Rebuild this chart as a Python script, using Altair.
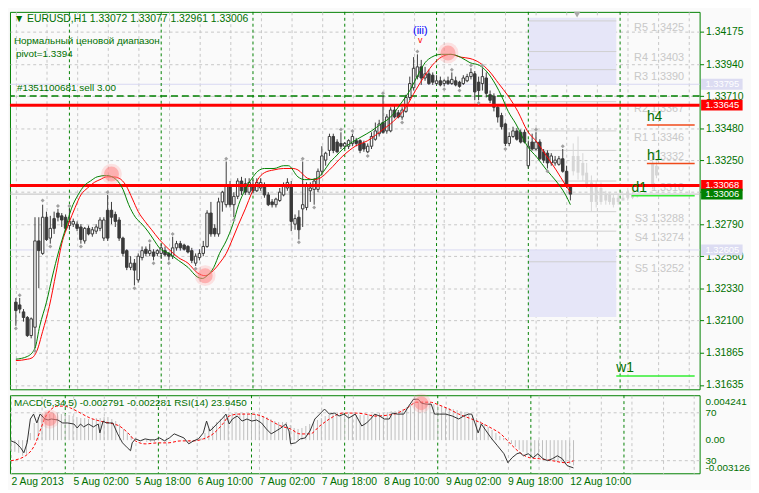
import altair as alt
import pandas as pd

# ---------------- data ----------------
opens = [1.3223,1.3221,1.3216,1.3212,1.3199,1.3205,1.3267,1.3258,1.3284,1.3269,
         1.3283,1.3287,1.3285,1.3284,1.3278,1.3279,1.3279,1.3277,1.3267,1.3276,
         1.3272,1.3274,1.3276,1.3269,1.3289,1.3289,1.3286,1.3282,1.3269,1.3260,
         1.3248,1.3251,1.3239,1.3255,1.3261,1.3258,1.3259,1.3258,1.3258,1.3260,
         1.3258,1.3256,1.3262,1.3265,1.3264,1.3263,1.3260,1.3251,1.3255,1.3258,
         1.3263,1.3287,1.3276,1.3272,1.3295,1.3293,1.3307,1.3293,1.3299,1.3310,
         1.3308,1.3302,1.3307,1.3303,1.3305,1.3307,1.3300,1.3295,1.3293,1.3296,
         1.3300,1.3305,1.3307,1.3279,1.3284,1.3290,1.3291,1.3303,1.3304,1.3304,
         1.3317,1.3325,1.3332,1.3342,1.3338,1.3337,1.3335,1.3335,1.3337,1.3339,
         1.3339,1.3337,1.3331,1.3335,1.3340,1.3344,1.3352,1.3346,1.3346,1.3361,
         1.3359,1.3356,1.3360,1.3370,1.3377,1.3385,1.3392,1.3384,1.3387,1.3386,
         1.3380,1.3382,1.3380,1.3382,1.3380,1.3382,1.3381,1.3380,1.3382,1.3385,
         1.3387,1.3381,1.3380,1.3384,1.3372,1.3371,1.3363,1.3357,1.3351,1.3337,
         1.3342,1.3346,1.3345,1.3345,1.3321,1.3338,1.3333,1.3338,1.3331,1.3330,
         1.3323,1.3323,1.3322,1.3326,1.3317,1.33072]
highs = [1.3226,1.3226,1.3218,1.3213,1.3212,1.3284,1.3284,1.3293,1.3288,1.3285,
         1.3288,1.3290,1.3287,1.3286,1.3290,1.3283,1.3281,1.3279,1.3277,1.3278,
         1.3277,1.3279,1.3284,1.3284,1.3300,1.3295,1.3288,1.3284,1.3270,1.3261,
         1.3256,1.3254,1.3258,1.3263,1.3263,1.3265,1.3261,1.3261,1.3265,1.3263,
         1.3259,1.3270,1.3267,1.3267,1.3265,1.3264,1.3262,1.3258,1.3261,1.3267,
         1.3289,1.3295,1.3279,1.3298,1.3303,1.3324,1.3310,1.3302,1.3312,1.3313,
         1.3312,1.3312,1.3311,1.3312,1.3312,1.3309,1.3302,1.3297,1.3298,1.3305,
         1.3309,1.3312,1.3310,1.3286,1.3289,1.3324,1.3309,1.3309,1.3312,1.3319,
         1.3335,1.3331,1.3344,1.3344,1.3340,1.3345,1.3338,1.3340,1.3344,1.3341,
         1.3340,1.3339,1.3337,1.3345,1.3352,1.3354,1.3371,1.3358,1.3363,1.3364,
         1.3361,1.3363,1.3372,1.3385,1.3399,1.3401,1.3397,1.3392,1.3390,1.3388,
         1.3386,1.3385,1.3383,1.3385,1.3388,1.3385,1.3382,1.3386,1.3387,1.3391,
         1.3389,1.3385,1.3391,1.3388,1.3375,1.3373,1.3365,1.3359,1.3352,1.3345,
         1.3349,1.3348,1.3347,1.3347,1.3339,1.3344,1.3345,1.3340,1.3333,1.3332,
         1.3330,1.3328,1.3328,1.3333,1.3321,1.33077]
lows = [1.3206,1.3215,1.3209,1.3198,1.3197,1.3190,1.3233,1.3257,1.3267,1.3265,
        1.3272,1.3281,1.3277,1.3274,1.3275,1.3277,1.3274,1.3265,1.3265,1.3271,
        1.3270,1.3272,1.3274,1.3267,1.3267,1.3279,1.3277,1.3267,1.3256,1.3246,
        1.3246,1.3235,1.3237,1.3253,1.3256,1.3256,1.3253,1.3256,1.3254,1.3256,
        1.3253,1.3254,1.3260,1.3260,1.3260,1.3258,1.3251,1.3249,1.3253,1.3256,
        1.3262,1.3270,1.3270,1.3270,1.3288,1.3291,1.3291,1.3284,1.3297,1.3300,
        1.3300,1.3300,1.3301,1.3302,1.3303,1.3298,1.3292,1.3291,1.3291,1.3295,
        1.3299,1.3303,1.3274,1.3275,1.3268,1.3277,1.3289,1.3295,1.3293,1.3302,
        1.3314,1.3321,1.3328,1.3330,1.3330,1.3333,1.3333,1.3333,1.3335,1.3335,
        1.3330,1.3331,1.3330,1.3333,1.3339,1.3342,1.3344,1.3344,1.3345,1.3355,
        1.3355,1.3354,1.3359,1.3368,1.3375,1.3383,1.3379,1.3382,1.3379,1.3379,
        1.3379,1.3378,1.3378,1.3379,1.3379,1.3378,1.3377,1.3379,1.3381,1.3383,
        1.3368,1.3368,1.3375,1.3370,1.3366,1.3360,1.3352,1.3347,1.3335,1.3335,
        1.3341,1.3339,1.3337,1.3337,1.3319,1.3332,1.3332,1.3325,1.3323,1.3319,
        1.3321,1.3321,1.3321,1.3316,1.3305,1.32961]
closes = [1.3217,1.3218,1.3212,1.3199,1.3211,1.3267,1.3260,1.3284,1.3268,1.3276,
          1.3276,1.3284,1.3282,1.3276,1.3281,1.3281,1.3276,1.3268,1.3276,1.3272,
          1.3275,1.3277,1.3282,1.3282,1.3269,1.3284,1.3281,1.3269,1.3258,1.3248,
          1.3251,1.3246,1.3256,1.3260,1.3258,1.3260,1.3256,1.3260,1.3262,1.3257,
          1.3256,1.3262,1.3265,1.3262,1.3261,1.3259,1.3253,1.3256,1.3258,1.3263,
          1.3287,1.3272,1.3272,1.3295,1.3302,1.3307,1.3293,1.3299,1.3310,1.3303,
          1.3302,1.3309,1.3303,1.3309,1.3309,1.3300,1.3293,1.3293,1.3297,1.3302,
          1.3307,1.3309,1.3281,1.3283,1.3275,1.3293,1.3307,1.3305,1.3310,1.3317,
          1.3328,1.3330,1.3342,1.3332,1.3331,1.3335,1.3337,1.3339,1.3342,1.3337,
          1.3332,1.3333,1.3335,1.3342,1.3346,1.3351,1.3345,1.3356,1.3361,1.3356,
          1.3356,1.3361,1.3370,1.3380,1.3391,1.3392,1.3384,1.3387,1.3380,1.3381,
          1.3382,1.3379,1.3382,1.3380,1.3383,1.3379,1.3378,1.3384,1.3385,1.3388,
          1.3374,1.3375,1.3385,1.3373,1.3368,1.3363,1.3356,1.3349,1.3337,1.3342,
          1.3346,1.3340,1.3338,1.3338,1.3335,1.3333,1.3338,1.3326,1.3325,1.3323,
          1.3328,1.3325,1.3326,1.3317,1.3307,1.33006]

# projected (light grey) candles on the right
ghost_i = [145.75,147,148.25,149.25,150.5,151.75,153,154.25,155.25,156.25,157.5,158.75,160,161.25,162.5,166.5,167.5]
ghost_o = [1.3328,1.3328,1.3323,1.3316,1.3309,1.3307,1.3305,1.3300,1.3300,1.3298,1.3298,1.3298,1.3298,1.3298,1.3299,1.3307,1.3321]
ghost_h = [1.3337,1.3342,1.3330,1.3323,1.3314,1.3310,1.3309,1.3303,1.3302,1.3300,1.3300,1.3300,1.3305,1.3302,1.3300,1.3328,1.3324]
ghost_l = [1.3314,1.3311,1.3310,1.3305,1.3288,1.3291,1.3293,1.3293,1.3293,1.3291,1.3293,1.3296,1.3296,1.3297,1.3298,1.3304,1.3312]
ghost_c = [1.3317,1.3316,1.3314,1.3307,1.3295,1.3295,1.3295,1.3296,1.3295,1.3293,1.3295,1.3296,1.3302,1.3300,1.3300,1.3323,1.3314]

# fractal markers
frac_up_i = [1,7,11,14,24,35,41,55,75,85,88,96,105,114,119,122,136,143]
frac_up_p = [1.3228,1.3296,1.3292,1.3292,1.3302,1.3267,1.3272,1.3326,1.3326,1.3347,1.3346,1.3373,1.3403,1.3390,1.3393,1.3393,1.3347,1.3335]
frac_dn_i = [0,5,9,17,31,36,40,47,57,74,78,92,101,112,116,121,128,139]
frac_dn_p = [1.3204,1.3188,1.3263,1.3263,1.3233,1.3251,1.3251,1.3247,1.3282,1.3266,1.3291,1.3328,1.3352,1.3376,1.3375,1.3366,1.3333,1.3317]

# moving averages (green fast, red slow)
ma_g_i = [0,3,5,6.25,8,9.5,11.25,13,14.5,16.25,18,19.5,21.25,23.75,26.25,28,29.5,31.25,33,34.5,36.25,37.5,40,42.5,45,47.5,48.75,50,51.75,53.25,55,56.75,58.25,60,61.75,63.25,65,67.5,70,71.25,73.75,75.5,77,78.75,80.5,82,83.75,85.5,88,90.5,93,95.5,98,100.5,103,105.5,107,108.75,111.25,113.75,116.25,118.75,121.25,123,125.5,127,128.75,130.75,133.75,136.25,138.75,141.25,143.75,145]
ma_g_p = [1.3182,1.3184,1.3190,1.3206,1.3223,1.3241,1.3260,1.3276,1.3290,1.3300,1.3307,1.3310,1.3313,1.3314,1.3311,1.3304,1.3293,1.3284,1.3279,1.3274,1.3267,1.3262,1.3258,1.3253,1.3248,1.3241,1.3240,1.3242,1.3248,1.3258,1.3267,1.3279,1.3293,1.3304,1.3312,1.3317,1.3319,1.3319,1.3321,1.3321,1.3313,1.3311,1.3311,1.3312,1.3317,1.3323,1.3328,1.3333,1.3338,1.3342,1.3346,1.3351,1.3356,1.3365,1.3375,1.3388,1.3395,1.3399,1.3401,1.3401,1.3399,1.3395,1.3393,1.3389,1.3379,1.3371,1.3360,1.3351,1.3335,1.3327,1.3318,1.3310,1.3300,1.3293]
ma_r_i = [0,3,4.25,5.5,7,8.75,10.5,12,13.75,15.5,17,18.75,20.5,22,23.75,25.5,27,28.75,30.5,32,33.75,35.5,37.5,40,42.5,45,47.5,49.5,51.75,53.25,55,56.75,58.25,60,61.75,63.25,65,67.5,70,72.5,73.75,76.25,78,79.5,82,85.5,88.75,92,95.5,98.75,102,104.5,107,109.5,111.25,113.75,116.25,118.75,121.25,123.75,126.25,128.75,131.25,133.75,136.25,138.75,141.25,143.75,145]
ma_r_p = [1.3181,1.3182,1.3183,1.3188,1.3202,1.3220,1.3244,1.3265,1.3279,1.3291,1.3300,1.3305,1.3309,1.3311,1.3313,1.3313,1.3312,1.3307,1.3297,1.3288,1.3281,1.3275,1.3268,1.3261,1.3255,1.3251,1.3244,1.3242,1.3246,1.3251,1.3258,1.3269,1.3279,1.3290,1.3302,1.3311,1.3316,1.3318,1.3319,1.3319,1.3318,1.3312,1.3311,1.3312,1.3318,1.3328,1.3335,1.3339,1.3346,1.3353,1.3363,1.3375,1.3386,1.3395,1.3399,1.3401,1.3399,1.3398,1.3395,1.3389,1.3380,1.3371,1.3360,1.3346,1.3338,1.3328,1.3318,1.3307,1.3302]

# MACD histogram (one per bar), signal line, RSI(14)
macd_hist = [-0.00118,-0.00129,-0.00140,-0.00173,-0.00151,
             0.00080,0.00190,0.00256,0.00289,
             0.00300,0.00289,0.00300,0.00300,0.00289,0.00289,0.00278,
             0.00267,0.00256,0.00245,0.00245,0.00234,0.00234,0.00245,0.00245,
             0.00256,0.00256,0.00234,0.00212,
             0.00179,0.00124,0.00080,0.00047,0.00025,
             -0.00008,-0.00008,-0.00019,-0.00019,-0.00019,-0.00008,-0.00008,-0.00019,-0.00008,0.00003,0.00003,0.00003,-0.00008,-0.00019,-0.00019,-0.00008,
             0.00025,0.00080,0.00124,0.00157,0.00201,0.00234,0.00267,0.00289,0.00300,
             0.00300,0.00300,0.00300,0.00289,0.00289,0.00289,0.00278,0.00267,0.00256,
             0.00234,0.00212,0.00201,0.00201,0.00201,0.00168,0.00135,
             0.00124,0.00135,0.00157,0.00179,0.00201,0.00223,0.00245,0.00267,0.00278,
             0.00289,0.00289,0.00289,0.00289,0.00289,0.00278,0.00278,0.00278,0.00278,0.00289,0.00289,0.00289,
             0.00300,0.00300,0.00311,0.00322,0.00322,0.00333,0.00344,0.00366,
             0.00388,0.00410,0.00421,0.004241,0.00421,0.00410,0.00399,0.00388,0.00377,
             0.00366,0.00355,0.00344,0.00333,0.00322,0.00311,0.00300,
             0.00278,0.00245,0.00212,0.00179,0.00146,0.00113,0.00080,0.00047,0.00025,-0.00008,
             -0.00041,-0.00074,-0.00107,-0.00129,-0.00151,-0.00173,-0.00184,-0.00195,-0.00206,-0.00217,-0.00228,-0.00228,-0.00239,-0.00250,-0.00250,-0.00261,-0.002791]
sig_i = [0,3.75,6.25,7.5,8.75,10.42,12.08,13.75,15.42,17.92,20.42,22.92,25.42,27.92,30.42,32.08,34.58,37.92,40.42,43.75,47.08,49.58,52.08,54.58,56.25,58.75,62.08,64.58,67.08,69.58,72.08,74.58,77.08,79.58,82.08,85.42,88.75,91.25,93.75,98.75,102.08,104.58,107.92,110.42,112.92,115.42,118.75,121.25,123.75,126.25,128.75,131.25,133.75,136.25,139.58,142.92,145]
sig_v = [-0.00228,-0.00173,-0.00041,0.00102,0.00245,0.00344,0.00377,0.00377,0.00355,0.00300,0.00245,0.00212,0.00190,0.00157,0.00069,-0.00008,-0.00041,-0.00030,-0.00030,-0.00008,-0.00008,0.00014,0.00069,0.00179,0.00267,0.00289,0.00289,0.00267,0.00212,0.00157,0.00124,0.00069,0.00069,0.00157,0.00234,0.00300,0.00300,0.00289,0.00267,0.00289,0.00355,0.00421,0.00421,0.00388,0.00344,0.00289,0.00234,0.00190,0.00135,0.00069,-0.00041,-0.00140,-0.00195,-0.00206,-0.00228,-0.00250,-0.002281]
rsi_i = [0,1.25,2.5,3.33,4.17,5,5.83,6.67,7.5,8.75,9.58,10.42,12.08,13.33,14.58,16.25,17.08,17.92,18.75,20,21.25,22.5,22.92,23.75,24.58,26.25,27.5,28.75,30,30.83,31.25,32.08,33.33,34.58,35.83,37.08,38.33,39.58,40.83,42.08,43.33,44.58,45.83,47.08,48.33,49.58,50.42,51.25,52.08,53.33,54.58,55.42,56.25,57.08,58.33,59.58,60.83,62.08,63.33,64.58,65.83,67.08,68.33,69.58,70.83,71.67,72.08,73.33,74.58,75.83,77.08,78.33,79.58,80.83,82.08,83.33,84.58,85.83,87.08,88.75,90.42,91.67,92.92,93.75,95,96.25,97.5,98.33,99.58,101.25,102.5,103.75,105,105.83,107.08,108.33,109.17,110.42,112.08,113.75,115.42,116.67,117.92,118.75,119.58,120.42,121.25,122.5,123.75,125.42,127.08,128.08,129.17,130.42,131.25,132.08,133.33,134.58,135.83,137.08,138.33,139.58,140.83,142.08,143.33,145]
rsi_v = [46.6,44.9,40.8,36.6,44.9,64.8,68.9,61.5,68.9,64.8,64.0,64.8,64.0,61.5,61.5,60.6,57.3,60.6,58.2,60.6,58.2,60.6,53.2,63.1,61.5,61.5,52.4,44.9,40.8,38.3,44.9,48.2,46.6,48.2,47.4,47.4,49.0,46.6,49.0,52.4,50.7,49.0,44.1,46.6,48.2,53.2,63.1,54.8,57.3,61.5,65.6,68.9,60.6,64.8,67.3,63.1,64.8,63.1,64.0,61.5,56.5,52.4,54.8,57.3,60.6,54.8,44.1,44.9,48.2,49.0,54.8,64.8,68.9,73.1,68.9,69.8,67.3,68.9,65.6,68.9,59.0,61.5,65.6,68.9,67.3,64.8,64.8,69.8,68.9,68.9,75.5,81.3,81.3,78.0,77.2,77.2,68.9,68.9,68.9,67.3,64.8,67.3,68.9,68.9,61.5,53.2,60.6,54.8,49.0,42.4,35.8,28.3,32.5,35.8,36.6,34.1,35.8,32.5,35.8,31.7,30.0,31.7,34.1,31.7,25.9,23.945]

# horizontal levels and labels
y_ticks = [1.34175,1.33940,1.33710,1.33480,1.33250,1.33020,1.32790,1.32560,1.32330,1.32100,1.31865,1.31635]
y_hidden_label = 1.33020
x_tick_labels = ["2 Aug 2013","5 Aug 02:00","5 Aug 18:00","6 Aug 10:00","7 Aug 02:00",
                 "7 Aug 18:00","8 Aug 10:00","9 Aug 02:00","9 Aug 18:00","12 Aug 10:00"]
day_starts = [14,38,62,86,110,134,158]
red_levels = [1.33645,1.33068]
lavender_levels = [1.33795,1.32605]
bid_price = 1.33006
sell_price = 1.3371
pivot_levels = [1.3425,1.3403,1.3390,1.3367,1.3346,1.3332,1.3310,1.3288,1.3274,1.3252]
pivot_names = ["R5 1.3425","R4 1.3403","R3 1.3390","R2 1.3367","R1 1.3346",
               "1.3332","1.3310","S3 1.3288","S4 1.3274","S5 1.3252"]
zone_top = [1.34273,1.32605]
zone_bot = [1.33796,1.32123]
tf_names = ["h4","h1","d1","w1"]
tf_prices = [1.33502,1.33226,1.32994,1.31700]
tf_start = [165,165,161,157]
tf_colors = ["#f04a1a","#f04a1a","#33ee33","#33ee33"]
box_prices = [1.33795,1.33645,1.33068,1.33006,1.32605]
box_texts = ["1.33795","1.33645","1.33068","1.33006","1.32605"]
box_colors = ["#dcdcf2","#ff0000","#ff0000","#008000","#dcdcf2"]
box_shift = [0, 0, -1.5, 1.5, -2.5]
hi_main_i = [25,49.5,113]
hi_main_p = [1.3315,1.3242,1.3402]
hi_macd_i = [10,105.75]
hi_macd_v = [0.00234,0.0041]
wave_label = "(iii)"
header_text = "\u25bc EURUSD,H1  1.33072 1.33077 1.32961 1.33006"
note_texts = ["Нормальный ценовой диапазон", " pivot=1.3394", "#1351100681 sell 3.00"]
macd_header = "MACD(5,34,5) -0.002791 -0.002281  RSI(14) 23.9450"
macd_labels_v = [0.004241, 0.0, -0.003126]
macd_labels_t = ["0.004241", "0.00", "-0.003126"]
rsi_levels = [70, 30]

# ---------------- chart ----------------
W, H1, H2 = 698, 382, 79
FONT = "Liberation Sans"
TXT = "#007000"
FRAME = "#008000"
GRID = "#c6c6c6"
CANDLE = "#3a3a3a"

xs = alt.Scale(domain=[-0.25, 177.5], nice=False, zero=False)
ps = alt.Scale(domain=[1.31604, 1.34315], nice=False, zero=False)
ms = alt.Scale(domain=[-0.003669, 0.004978], nice=False, zero=False)
rs = alt.Scale(domain=[19.48, 84.66], nice=False, zero=False)

grid_vals = list(range(0, 177, 8))
main_xaxis = alt.Axis(values=grid_vals, labels=False, ticks=False, domain=False, grid=True,
                      gridColor=GRID, gridDash=[3, 3], title=None)
main_yaxis = alt.Axis(orient="right", values=y_ticks,
                      labelExpr="abs(datum.value - %r) < 0.000001 ? '' : format(datum.value, '.5f')" % y_hidden_label,
                      labelColor=TXT, labelFont=FONT,
                      labelFontSize=10.5, tickColor=FRAME, tickSize=4, domain=False, grid=True,
                      gridColor=GRID, gridDash=[3, 3], labelPadding=2, title=None)
lab_arr = "[" + ",".join("'" + s + "'" for s in x_tick_labels) + "]"
macd_xaxis = alt.Axis(values=grid_vals,
                      labelExpr="(datum.value % 16 == 0 && datum.value <= 144) ? " + lab_arr + "[datum.value / 16] : ''",
                      labelAlign="left", labelColor=TXT, labelFont=FONT, labelFontSize=10.5,
                      labelFlush=False, labelOverlap=False, labelBound=False, ticks=False, domain=False,
                      grid=True, gridColor=GRID, gridDash=[3, 3], labelPadding=3, title=None)


def MX(f):
    return alt.X(f, type="quantitative", scale=xs, axis=main_xaxis)


def MY(f):
    return alt.Y(f, type="quantitative", scale=ps, axis=main_yaxis)


def KX(f):
    return alt.X(f, type="quantitative", scale=xs, axis=macd_xaxis)


bars = pd.DataFrame({"i": list(range(len(opens))), "o": opens, "h": highs, "l": lows, "c": closes})
bars["fillc"] = ["#ffffff" if c > o else CANDLE for o, c in zip(opens, closes)]
ghosts = pd.DataFrame({"i": ghost_i, "o": ghost_o, "h": ghost_h, "l": ghost_l, "c": ghost_c})

zones = pd.DataFrame({"a": [134, 134], "b": [157, 157], "t": zone_top, "u": zone_bot})
pivots = pd.DataFrame({"a": [134] * len(pivot_levels), "b": [157] * len(pivot_levels),
                       "p": pivot_levels, "n": pivot_names, "lx": [174.75] * len(pivot_levels)})
tfs = pd.DataFrame({"a": tf_start, "b": [177.5] * 4, "p": tf_prices, "n": tf_names, "col": tf_colors})
boxes = pd.DataFrame({"p": box_prices, "t": box_texts, "col": box_colors, "s": box_shift})

L = []
L.append(alt.Chart(zones).mark_rect(color="#e6e6f8").encode(x=MX("a"), x2=alt.X2("b"), y=MY("t"), y2=alt.Y2("u")))
L.append(alt.Chart(pivots).mark_rule(color="#cfcfcf", strokeWidth=1).encode(x=MX("a"), x2=alt.X2("b"), y=MY("p")))
L.append(alt.Chart(pivots).mark_text(align="right", baseline="top", dy=1, color="#c8c8c8", font=FONT, fontSize=11)
         .encode(x=MX("lx"), y=MY("p"), text="n:N"))
L.append(alt.Chart(pd.DataFrame({"p": lavender_levels})).mark_rule(color="#d8d8f2", strokeWidth=1).encode(y=MY("p")))
L.append(alt.Chart(pd.DataFrame({"p": [bid_price]})).mark_rule(color="#c0c0c0", strokeWidth=1).encode(y=MY("p")))
L.append(alt.Chart(pd.DataFrame({"d": day_starts})).mark_rule(color=FRAME, strokeDash=[3, 3], strokeWidth=1).encode(x=MX("d")))
L.append(alt.Chart(pd.DataFrame({"p": [sell_price]})).mark_rule(color=FRAME, strokeDash=[7, 4], strokeWidth=1.5).encode(y=MY("p")))
# ghost candles
L.append(alt.Chart(ghosts).mark_rule(color="#d6d6d6", strokeWidth=1).encode(x=MX("i"), y=MY("l"), y2=alt.Y2("h")))
L.append(alt.Chart(ghosts).mark_bar(size=3, color="#d6d6d6").encode(x=MX("i"), y=MY("o"), y2=alt.Y2("c")))
# candles
L.append(alt.Chart(bars).mark_rule(color=CANDLE, strokeWidth=1).encode(x=MX("i"), y=MY("l"), y2=alt.Y2("h")))
L.append(alt.Chart(bars).mark_bar(size=2.5, stroke=CANDLE, strokeWidth=1)
         .encode(x=MX("i"), y=MY("o"), y2=alt.Y2("c"), fill=alt.Fill("fillc:N", scale=None)))
# red levels
L.append(alt.Chart(pd.DataFrame({"p": red_levels})).mark_rule(color="#ff0000", strokeWidth=3).encode(y=MY("p")))
# moving averages
L.append(alt.Chart(pd.DataFrame({"i": ma_r_i, "p": ma_r_p})).mark_line(color="#ff0000", strokeWidth=1, interpolate="monotone")
         .encode(x=MX("i"), y=MY("p")))
L.append(alt.Chart(pd.DataFrame({"i": ma_g_i, "p": ma_g_p})).mark_line(color="#008000", strokeWidth=1, interpolate="monotone")
         .encode(x=MX("i"), y=MY("p")))
# fractals
L.append(alt.Chart(pd.DataFrame({"i": frac_up_i + frac_dn_i, "p": frac_up_p + frac_dn_p}))
         .mark_point(shape="diamond", filled=True, color="#a0a0a0", size=16, opacity=1).encode(x=MX("i"), y=MY("p")))
# highlight circles
hm = pd.DataFrame({"i": hi_main_i, "p": hi_main_p})
L.append(alt.Chart(hm).mark_point(filled=True, color="#ff7070", size=440, opacity=0.18).encode(x=MX("i"), y=MY("p")))
L.append(alt.Chart(hm).mark_point(filled=True, color="#ff8080", size=230, opacity=0.5).encode(x=MX("i"), y=MY("p")))
# timeframe level marks
L.append(alt.Chart(tfs).mark_rule(strokeWidth=1.5).encode(x=MX("a"), x2=alt.X2("b"), y=MY("p"), color=alt.Color("col:N", scale=None)))
L.append(alt.Chart(tfs).mark_text(align="left", baseline="bottom", dy=-1, color=TXT, font=FONT, fontSize=14)
         .encode(x=MX("a"), y=MY("p"), text="n:N"))
# wave label
L.append(alt.Chart(pd.DataFrame({"i": [105.75], "p": [1.3418], "t": [wave_label]}))
         .mark_text(color="#0000ff", font=FONT, fontSize=11).encode(x=MX("i"), y=MY("p"), text="t:N"))
L.append(alt.Chart(pd.DataFrame({"i": [105.75], "p": [1.3411], "t": ["v"]}))
         .mark_text(color="#ff0000", font=FONT, fontSize=9).encode(x=MX("i"), y=MY("p"), text="t:N"))
L.append(alt.Chart(pd.DataFrame({"i": [146.75], "p": [1.34295]}))
         .mark_point(shape="triangle-down", filled=True, color="#a8a8a8", size=45, opacity=1).encode(x=MX("i"), y=MY("p")))
# texts in the corner
L.append(alt.Chart(pd.DataFrame({"t": [header_text]})).mark_text(align="left", baseline="middle", color=TXT, font=FONT, fontSize=10.5)
         .encode(x=alt.value(4), y=alt.value(7), text="t:N"))
L.append(alt.Chart(pd.DataFrame({"t": [note_texts[0]]})).mark_text(align="left", baseline="middle", color=TXT, font=FONT, fontSize=10)
         .encode(x=alt.value(4), y=alt.value(30), text="t:N"))
L.append(alt.Chart(pd.DataFrame({"t": [note_texts[1]]})).mark_text(align="left", baseline="middle", color=TXT, font=FONT, fontSize=10)
         .encode(x=alt.value(6), y=alt.value(43), text="t:N"))
L.append(alt.Chart(pd.DataFrame({"t": [note_texts[2]]})).mark_text(align="left", baseline="middle", color=TXT, font=FONT, fontSize=10)
         .encode(x=alt.value(7), y=alt.value(77), text="t:N"))
# price boxes on the axis
L.append(alt.Chart(boxes).mark_tick(thickness=11, size=42, opacity=1)
         .encode(x=alt.value(W + 22.5), y=MY("p"), yOffset=alt.YOffset("s:Q", scale=None),
                 color=alt.Color("col:N", scale=None)))
L.append(alt.Chart(boxes).mark_text(align="center", baseline="middle", color="#ffffff", font=FONT, fontSize=9.5)
         .encode(x=alt.value(W + 23), y=MY("p"), yOffset=alt.YOffset("s:Q", scale=None), text="t:N"))

main = alt.layer(*L).properties(width=W, height=H1)

# ---- MACD / RSI panel ----
hist = pd.DataFrame({"i": list(range(len(macd_hist))), "v": macd_hist})
K = []
K.append(alt.Chart(pd.DataFrame({"r": rsi_levels})).mark_rule(color=GRID, strokeDash=[3, 3])
         .encode(y=alt.Y("r:Q", scale=rs, axis=None)))
K.append(alt.Chart(pd.DataFrame({"d": day_starts})).mark_rule(color=FRAME, strokeDash=[3, 3]).encode(x=KX("d")))
K.append(alt.Chart(hist).mark_rule(color="#bdbdbd", strokeWidth=1)
         .encode(x=KX("i"), y=alt.Y("v:Q", scale=ms, axis=None), y2=alt.datum(0)))
K.append(alt.Chart(pd.DataFrame({"i": sig_i, "v": sig_v})).mark_line(color="#ff0000", strokeDash=[3, 2], strokeWidth=1, interpolate="monotone")
         .encode(x=KX("i"), y=alt.Y("v:Q", scale=ms, axis=None)))
K.append(alt.Chart(pd.DataFrame({"i": rsi_i, "r": rsi_v})).mark_line(color="#303030", strokeWidth=1)
         .encode(x=KX("i"), y=alt.Y("r:Q", scale=rs, axis=None)))
hk = pd.DataFrame({"i": hi_macd_i, "v": hi_macd_v})
K.append(alt.Chart(hk).mark_point(filled=True, color="#ff7070", size=380, opacity=0.18).encode(x=KX("i"), y=alt.Y("v:Q", scale=ms, axis=None)))
K.append(alt.Chart(hk).mark_point(filled=True, color="#ff8080", size=200, opacity=0.5).encode(x=KX("i"), y=alt.Y("v:Q", scale=ms, axis=None)))
K.append(alt.Chart(pd.DataFrame({"t": [macd_header]})).mark_text(align="left", baseline="middle", color=TXT, font=FONT, fontSize=10)
         .encode(x=alt.value(4), y=alt.value(8), text="t:N"))
K.append(alt.Chart(pd.DataFrame({"v": macd_labels_v, "t": macd_labels_t})).mark_text(align="left", baseline="middle", color=TXT, font=FONT, fontSize=10)
         .encode(x=alt.value(W + 6), y=alt.Y("v:Q", scale=ms, axis=None), text="t:N"))
K.append(alt.Chart(pd.DataFrame({"r": rsi_levels, "t": [str(v) for v in rsi_levels]})).mark_text(align="left", baseline="middle", color=TXT, font=FONT, fontSize=10)
         .encode(x=alt.value(W + 6), y=alt.Y("r:Q", scale=rs, axis=None), text="t:N"))

macd = alt.layer(*K).resolve_scale(y="independent").properties(width=W, height=H2)

chart = (alt.vconcat(main, macd, spacing=1)
         .resolve_scale(x="independent", y="independent")
         .properties(padding={"left": 0, "top": 0, "right": 0, "bottom": 0}, background="#fafafa")
         .configure_view(stroke=FRAME, strokeWidth=1, fill="#fafafa"))

chart.save("out.html", embed_options={"renderer": "svg", "actions": False})
